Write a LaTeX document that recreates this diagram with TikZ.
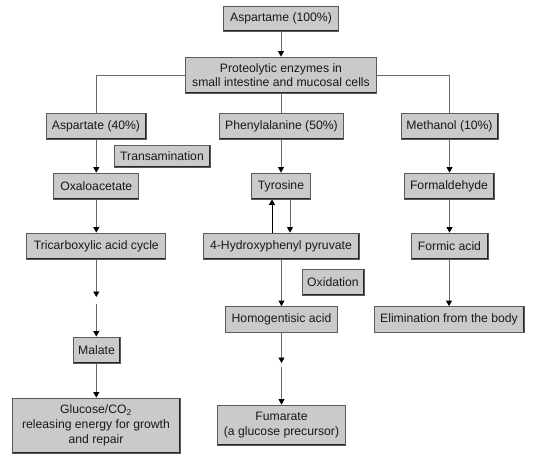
\documentclass[tikz,border=0pt]{standalone}
\usepackage{fontspec}
\setmainfont{Liberation Sans}
\usetikzlibrary{arrows.meta}
\definecolor{boxfill}{HTML}{CACACA}
\definecolor{boxline}{HTML}{5A5A5A}
\definecolor{connline}{HTML}{6A6A6A}
\begin{document}
\begin{tikzpicture}[x=1pt,y=-1pt,
  box/.style={draw=boxline, fill=boxfill, line width=0.8pt, inner sep=0pt, align=center,
    font=\fontsize{12.2}{14.6}\selectfont, text=black!90,
    path picture={\draw[black!85, line width=1.8pt]
      (path picture bounding box.south west) -- (path picture bounding box.south east)
      -- (path picture bounding box.north east);}},
  conn/.style={draw=connline, line width=0.8pt},
  arr/.style={conn, -{Triangle[length=5.5pt,width=6pt,fill=black,color=black]}},
  uparr/.style={draw=black, line width=1pt, -{Triangle[length=5.5pt,width=6pt]}}]
\useasboundingbox[fill=white] (0,0) rectangle (541,460);
\node[box, minimum width=115pt, minimum height=25pt] (asp100) at (281,18.5) {Aspartame (100\%)};
\node[box, minimum width=191pt, minimum height=36pt] (prot) at (281,75) {Proteolytic enzymes in\\small intestine and mucosal cells};
\node[box, minimum width=100pt, minimum height=26pt] (aspartate) at (96,126) {Aspartate (40\%)};
\node[box, minimum width=124pt, minimum height=26pt] (phe) at (281.5,126) {Phenylalanine (50\%)};
\node[box, minimum width=97pt, minimum height=26pt] (meth) at (449.5,126) {Methanol (10\%)};
\node[box, minimum width=96pt, minimum height=22pt] (trans) at (162,156) {Transamination};
\node[box, minimum width=85pt, minimum height=26pt] (oxalo) at (96.3,186) {Oxaloacetate};
\node[box, minimum width=59pt, minimum height=26pt] (tyr) at (281,186) {Tyrosine};
\node[box, minimum width=90pt, minimum height=26pt] (formald) at (449,186) {Formaldehyde};
\node[box, minimum width=139pt, minimum height=26pt] (tca) at (96.3,246) {Tricarboxylic acid cycle};
\node[box, minimum width=156pt, minimum height=26pt] (hpp) at (281,246) {4-Hydroxyphenyl pyruvate};
\node[box, minimum width=77pt, minimum height=26pt] (formic) at (449.5,246) {Formic acid};
\node[box, minimum width=62pt, minimum height=26pt] (oxid) at (333,282) {Oxidation};
\node[box, minimum width=112pt, minimum height=26pt] (homo) at (281.5,319.5) {Homogentisic acid};
\node[box, minimum width=150pt, minimum height=26pt] (elim) at (449,319.5) {Elimination from the body};
\node[box, minimum width=47pt, minimum height=26pt] (malate) at (96.5,350) {Malate};
\node[box, minimum width=168pt, minimum height=55pt, font=\fontsize{12.2}{15}\selectfont] (glucose) at (96,425.5) {Glucose/CO\textsubscript{2}\\releasing energy for growth\\and repair};
\node[box, minimum width=128pt, minimum height=40pt] (fumarate) at (281.5,425) {Fumarate\\(a glucose precursor)};
\coordinate (m1) at (96.3,297);
\coordinate (m1b) at (96.3,304);
\coordinate (m2) at (281.5,363);
\coordinate (m2b) at (281.5,367);
% connectors
\draw[arr] (asp100) -- (prot);
\draw[conn] (prot.west) -| (oxalo.north |- aspartate.north);
\draw[conn] (prot.east) -| (meth.north);
\draw[conn] (prot.south -| phe.north) -- (phe.north);
\draw[arr] (aspartate.south -| oxalo.north) -- (oxalo.north);
\draw[arr] (phe.south -| tyr.north) -- (tyr.north);
\draw[arr] (meth.south) -- (meth.south |- formald.north);
\draw[arr] (oxalo.south) -- (oxalo.south |- tca.north);
\draw[arr] (formald.south -| formic.north) -- (formic.north);
\draw[arr] ([xshift=9pt]tyr.south) -- ([xshift=9pt]tyr.south |- hpp.north);
\draw[uparr] ([xshift=-9pt]tyr.south |- hpp.north) -- ([xshift=-9pt]tyr.south);
\draw[arr] (tca.south) -- (m1);
\draw[arr] (m1b) -- (m1b |- malate.north);
\draw[arr] (malate.south -| m1b) -- (m1b |- glucose.north);
\draw[arr] (hpp.south -| homo.north) -- (homo.north);
\draw[arr] (homo.south) -- (m2);
\draw[arr] (m2b) -- (fumarate.north);
\draw[arr] (formic.south -| elim.north) -- (elim.north);
\end{tikzpicture}
\end{document}
